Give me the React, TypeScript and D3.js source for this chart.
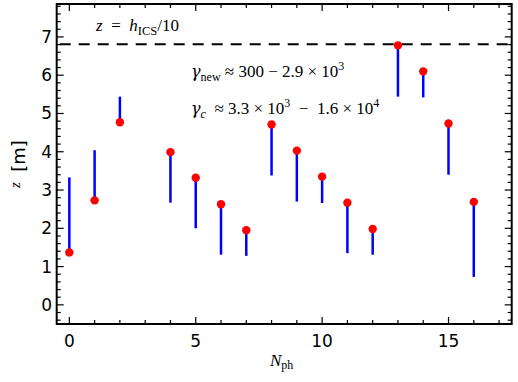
import React from "react";
import * as d3 from "d3";

const nph = [0, 1, 2, 4, 5, 6, 7, 8, 9, 10, 11, 12, 13, 14, 15, 16];
const zPoint = [1.37, 2.73, 4.77, 3.99, 3.32, 2.63, 1.95, 4.71, 4.03, 3.35, 2.67, 1.98, 6.78, 6.1, 4.74, 2.69];
const zOther = [3.33, 4.04, 5.44, 2.67, 2.0, 1.31, 1.28, 3.38, 2.7, 2.66, 1.35, 1.31, 5.44, 5.42, 3.4, 0.73];
const hLine = 6.81;
const xMajor = [0, 5, 10, 15];
const yMajor = [0, 1, 2, 3, 4, 5, 6, 7];

const W = 518, H = 382;
const M = { left: 56.7, right: 511.7, top: 4, bottom: 324 };

export default function App() {
  const x = d3.scaleLinear().domain([-0.5, 17.5]).range([M.left, M.right]);
  const y = d3.scaleLinear().domain([-0.5, 7.86]).range([M.bottom, M.top]);
  const xMinor = d3.range(0, 18, 1).filter((v) => !xMajor.includes(v));
  const yMinor = d3.range(-0.4, 7.85, 0.2).map((v) => Math.round(v * 10) / 10).filter((v) => Math.abs(v - Math.round(v)) > 0.01);
  const serif = "'Liberation Serif', 'DejaVu Serif', serif";
  const sans = "'DejaVu Sans', sans-serif";
  const maj = 7, mnr = 4;
  const fs = 17, sub = 12;
  const en = "\u2002";
  return (
    <svg width={W} height={H} style={{ position: "absolute", left: 0, top: 0 }}>
      <rect width={W} height={H} fill="#fff" />
      <line x1={M.left} x2={M.right} y1={y(hLine)} y2={y(hLine)} stroke="#000" strokeWidth={2} strokeDasharray="11,8" strokeDashoffset={-3} />
      {nph.map((n, i) => (
        <line key={"s" + i} x1={x(n)} x2={x(n)} y1={y(zPoint[i])} y2={y(zOther[i])} stroke="#0000ff" strokeWidth={2.5} />
      ))}
      {nph.map((n, i) => (
        <circle key={"p" + i} cx={x(n)} cy={y(zPoint[i])} r={4.2} fill="#ff0000" />
      ))}
      <g stroke="#000" strokeWidth={1.2}>
        {xMajor.map((v) => (
          <g key={"xm" + v}>
            <line x1={x(v)} x2={x(v)} y1={M.bottom} y2={M.bottom - maj} />
            <line x1={x(v)} x2={x(v)} y1={M.top} y2={M.top + maj} />
          </g>
        ))}
        {xMinor.map((v) => (
          <g key={"xn" + v}>
            <line x1={x(v)} x2={x(v)} y1={M.bottom} y2={M.bottom - mnr} />
            <line x1={x(v)} x2={x(v)} y1={M.top} y2={M.top + mnr} />
          </g>
        ))}
        {yMajor.map((v) => (
          <g key={"ym" + v}>
            <line x1={M.left} x2={M.left + maj} y1={y(v)} y2={y(v)} />
            <line x1={M.right} x2={M.right - maj} y1={y(v)} y2={y(v)} />
          </g>
        ))}
        {yMinor.map((v) => (
          <g key={"yn" + v}>
            <line x1={M.left} x2={M.left + mnr} y1={y(v)} y2={y(v)} />
            <line x1={M.right} x2={M.right - mnr} y1={y(v)} y2={y(v)} />
          </g>
        ))}
      </g>
      <rect x={M.left} y={M.top} width={M.right - M.left} height={M.bottom - M.top} fill="none" stroke="#000" strokeWidth={2} />
      <g fontFamily={sans} fontSize={17} fill="#000">
        {xMajor.map((v) => (
          <text key={"xl" + v} x={x(v)} y={347} textAnchor="middle">{v}</text>
        ))}
        {yMajor.map((v) => (
          <text key={"yl" + v} x={52} y={y(v) + 6} textAnchor="end">{v}</text>
        ))}
      </g>
      {/* axis labels */}
      <text x={270} y={365.5} fontFamily={serif} fontSize={17} fontStyle="italic">N<tspan fontStyle="normal" fontSize={12} dy={3}>ph</tspan></text>
      <text transform="translate(20,188) rotate(-90)" fontFamily={serif} fontStyle="italic" fontSize={15}>z</text>
      <text transform="translate(25,156) rotate(-90)" fontFamily={sans} fontSize={18} textAnchor="middle">[m]</text>
      {/* annotations */}
      <text x={96} y={31} fontFamily={serif} fontSize={fs}>
        <tspan fontStyle="italic">z</tspan>
        <tspan>{en + "=" + en}</tspan>
        <tspan fontStyle="italic">h</tspan>
        <tspan fontSize={sub + 0.5} dy={3.5}>ICS</tspan>
        <tspan dy={-3.5}>/10</tspan>
      </text>
      <text x={191} y={77} fontFamily={serif} fontSize={fs}>
        <tspan fontStyle="italic" fontFamily="'DejaVu Serif', serif" fontSize={16}>γ</tspan>
        <tspan fontSize={sub} dy={3.5}>new</tspan>
        <tspan dy={-3.5}> ≈ 300 − 2.9 × 10</tspan>
        <tspan fontSize={sub} dy={-7}>3</tspan>
      </text>
      <text x={191} y={114} fontFamily={serif} fontSize={fs}>
        <tspan fontStyle="italic" fontFamily="'DejaVu Serif', serif" fontSize={16}>γ</tspan>
        <tspan fontSize={sub} fontStyle="italic" dy={3.5}>c</tspan>
        <tspan dy={-3.5}>{en + "≈ 3.3 × 10"}</tspan>
        <tspan fontSize={sub} dy={-7}>3</tspan>
        <tspan dy={7}>{en + "−" + en + "1.6 × 10"}</tspan>
        <tspan fontSize={sub} dy={-7}>4</tspan>
      </text>
    </svg>
  );
}
